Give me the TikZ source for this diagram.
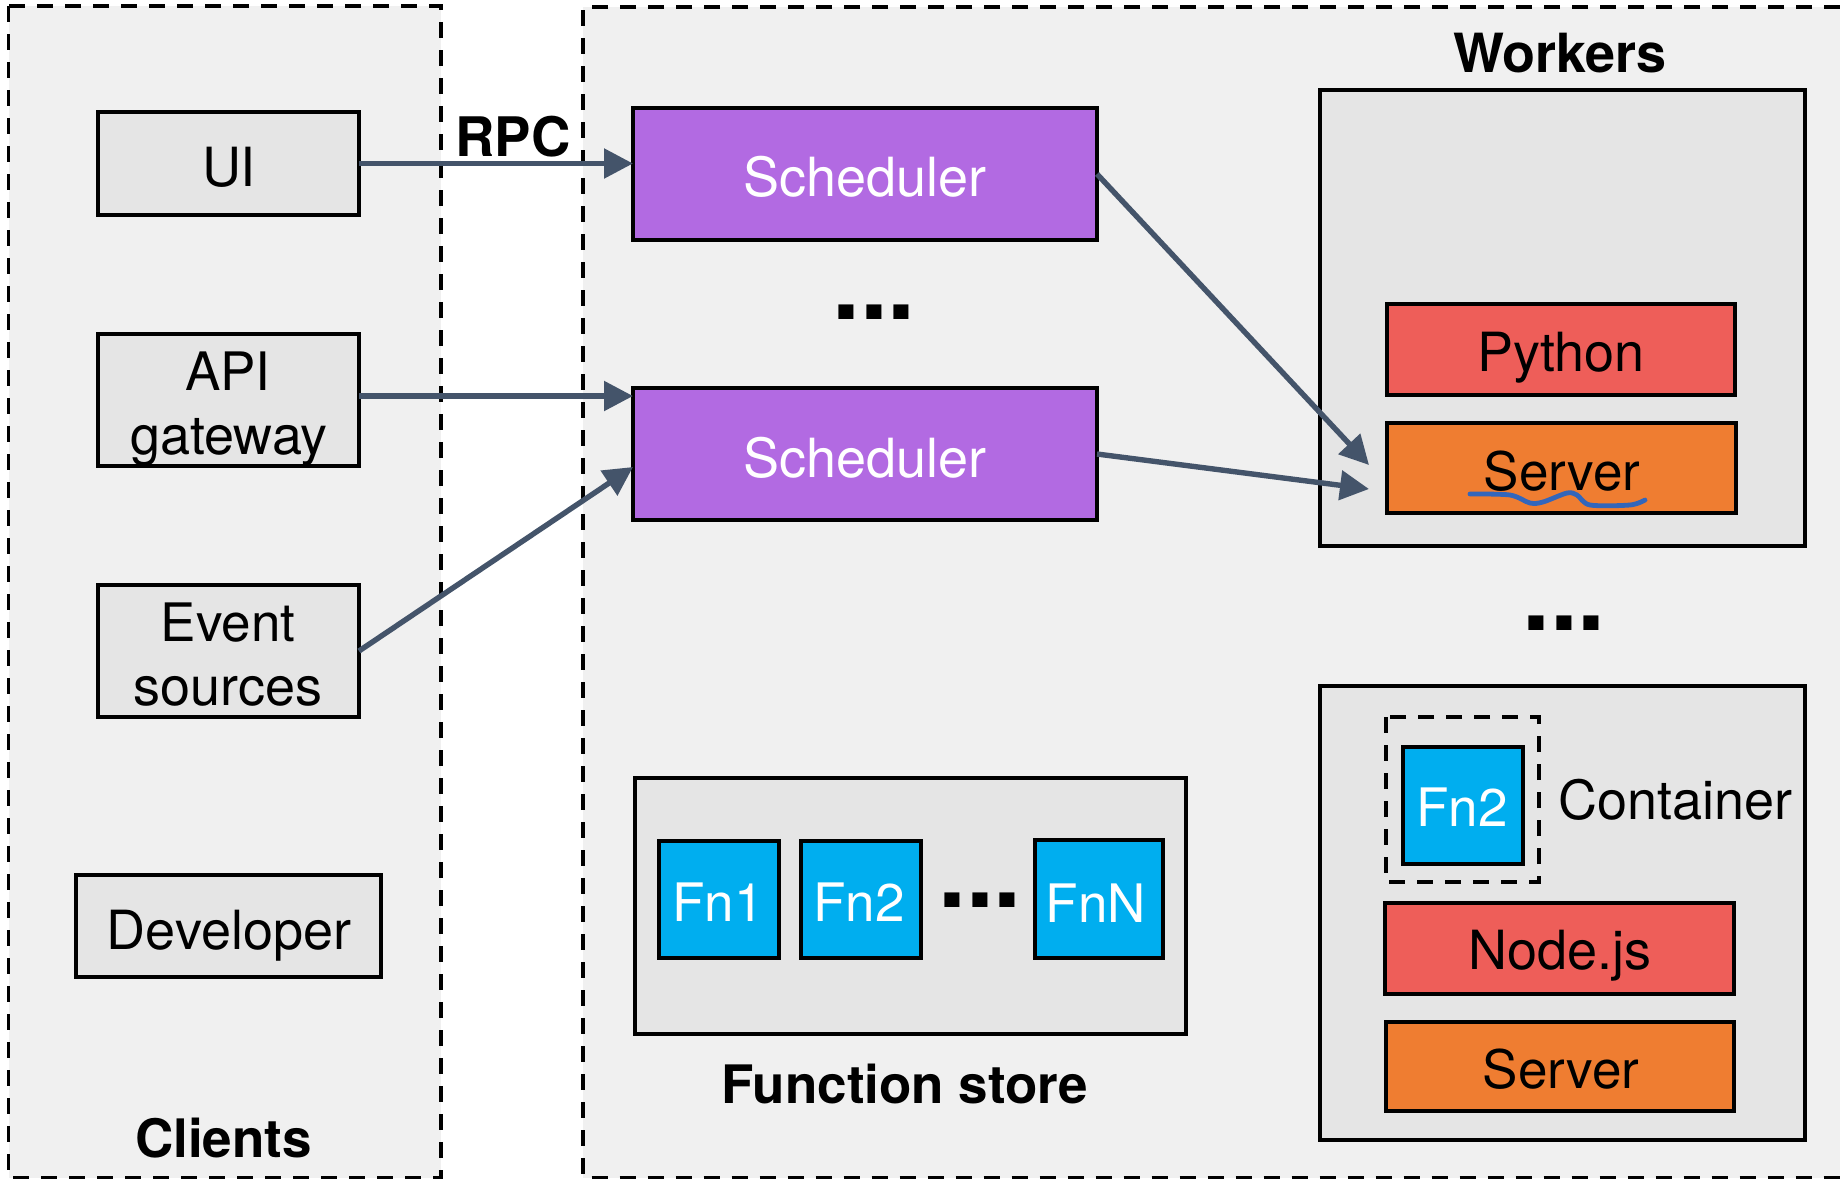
\documentclass[tikz,border=0pt]{standalone}
\usepackage{fontspec}
\setmainfont{TeX Gyre Heros}
\usetikzlibrary{arrows.meta,fit}
\definecolor{panelc}{HTML}{F0F0F0}
\definecolor{boxc}{HTML}{E5E5E5}
\definecolor{purplec}{HTML}{B26AE2}
\definecolor{redc}{HTML}{EE5E59}
\definecolor{orangec}{HTML}{EF7D31}
\definecolor{cyanc}{HTML}{00AEEF}
\definecolor{arrowc}{HTML}{44546A}
\definecolor{squigc}{HTML}{3366BB}
\newcommand{\bx}[6]{\node[#6,fit={(#2,#3)(#4,#5)}] (#1) {};}
\tikzset{
  shapebox/.style={draw=black,line width=3.2pt,inner sep=0pt,outer sep=0pt,rectangle},
  greybox/.style={shapebox,fill=boxc},
  schedbox/.style={shapebox,fill=purplec},
  redbox/.style={shapebox,fill=redc},
  orangebox/.style={shapebox,fill=orangec},
  fnbox/.style={shapebox,fill=cyanc},
  dashline/.style={draw=black,line width=3.6pt,dash pattern=on 16pt off 12pt},
  lab/.style={anchor=base,inner sep=0pt,outer sep=0pt,font=\fontsize{54}{54}\selectfont},
  smalllab/.style={lab,font=\fontsize{53}{53}\selectfont},
  wlab/.style={lab,text=white},
  fnlab/.style={smalllab,text=white},
  blab/.style={lab,font=\fontsize{53}{53}\selectfont\bfseries},
  bwlab/.style={lab,font=\fontsize{54}{54}\selectfont\bfseries},
  dotlab/.style={anchor=base,inner sep=0pt,outer sep=0pt,font=\fontsize{100}{100}\selectfont\bfseries},
  conn/.style={draw=arrowc,line width=5.4pt,-{Triangle[length=29pt,width=29pt]}}
}
\begin{document}
\begin{tikzpicture}[x=1pt,y=-1pt]
\useasboundingbox (0,0) rectangle (1840,1179);
% panels
\fill[panelc] (8.5,6) rectangle (441,1177.5);
\draw[dashline] (8.5,6) rectangle (441,1177.5);
\fill[panelc] (583,7) rectangle (1840,1177.5);
\draw[dashline] (1840,7) -- (583,7) -- (583,1177.5) -- (1840,1177.5);
% client boxes
\bx{ui}{98}{112}{359}{215}{greybox}
\bx{api}{98}{334}{359}{466}{greybox}
\bx{event}{98}{585}{359}{717}{greybox}
\bx{dev}{76}{875}{381}{977}{greybox}
\node[lab] (uilab) at (229,186) {UI};
\node[smalllab] (apilab1) at (228,390) {API};
\node[lab] (apilab2) at (229,454) {gateway};
\node[smalllab] (evlab1) at (228,641) {Event};
\node[lab] (evlab2) at (228,705) {sources};
\node[lab] (devlab) at (229,949) {Developer};
\node[blab] (clientslab) at (223.5,1157) {Clients};
% schedulers
\bx{sa}{633}{108}{1097}{240}{schedbox}
\bx{sb}{633}{388}{1097}{520}{schedbox}
\node[wlab] (salab) at (865,196) {Scheduler};
\node[wlab] (sblab) at (865,477) {Scheduler};
\node[dotlab] (dotsa) at (874,319) {...};
% workers
\node[bwlab] (workerslab) at (1560,72) {Workers};
\bx{wa}{1320}{90}{1805}{546}{greybox}
\bx{python}{1387}{304}{1735}{395}{redbox}
\bx{servera}{1387}{423}{1736}{513}{orangebox}
\node[lab] (pylab) at (1561,371) {Python};
\node[smalllab] (servalab) at (1562,490) {Server};
\draw[squigc,line width=4.8pt,line cap=round] plot[smooth,tension=0.5] coordinates {(1470,494) (1510,495) (1530,503) (1543,502) (1567,493) (1577,495) (1590,505) (1630,505) (1645,500)};
\node[dotlab] (dotsb) at (1564,630) {...};
\bx{wb}{1320}{686}{1805}{1140}{greybox}
\draw[dashline] (1386,717) rectangle (1539,882);
\bx{fnw}{1403}{747}{1523}{864}{fnbox}
\node[fnlab] (fnwlab) at (1462,826) {Fn2};
\node[lab,anchor=base west] (contlab) at (1558,819) {Container};
\bx{nodejs}{1385}{903}{1734}{994}{redbox}
\node[lab] (nodelab) at (1560,969) {Node.js};
\bx{serverb}{1386}{1022}{1734}{1111}{orangebox}
\node[smalllab] (servblab) at (1561,1088) {Server};
% function store
\bx{store}{635}{778}{1186}{1034}{greybox}
\bx{fna}{659}{841}{779}{958}{fnbox}
\bx{fnb}{801}{841}{921}{958}{fnbox}
\bx{fnn}{1035}{840}{1163}{958}{fnbox}
\node[fnlab] (fnalab) at (718,921) {Fn1};
\node[fnlab] (fnblab) at (859,921) {Fn2};
\node[fnlab] (fnnlab) at (1096,922) {FnN};
\node[dotlab] (dotsc) at (980,907) {...};
\node[blab] (storelab) at (905,1103) {Function store};
% connectors
\node[lab,font=\fontsize{54.5}{54.5}\selectfont\bfseries] (rpclab) at (513,156) {RPC};
\coordinate (serverin) at (1369,465);
\coordinate (serverinb) at (1369,489);
\draw[conn] (ui.east) -- (ui.east -| sa.west);
\draw[conn] ([yshift=4pt]api.east) -- ([yshift=4pt]api.east -| sb.west);
\draw[conn] (event.east) -- ([yshift=-13pt]sb.west);
\draw[conn] (sa.east) -- (serverin);
\draw[conn] (sb.east) -- (serverinb);
\end{tikzpicture}
\end{document}
